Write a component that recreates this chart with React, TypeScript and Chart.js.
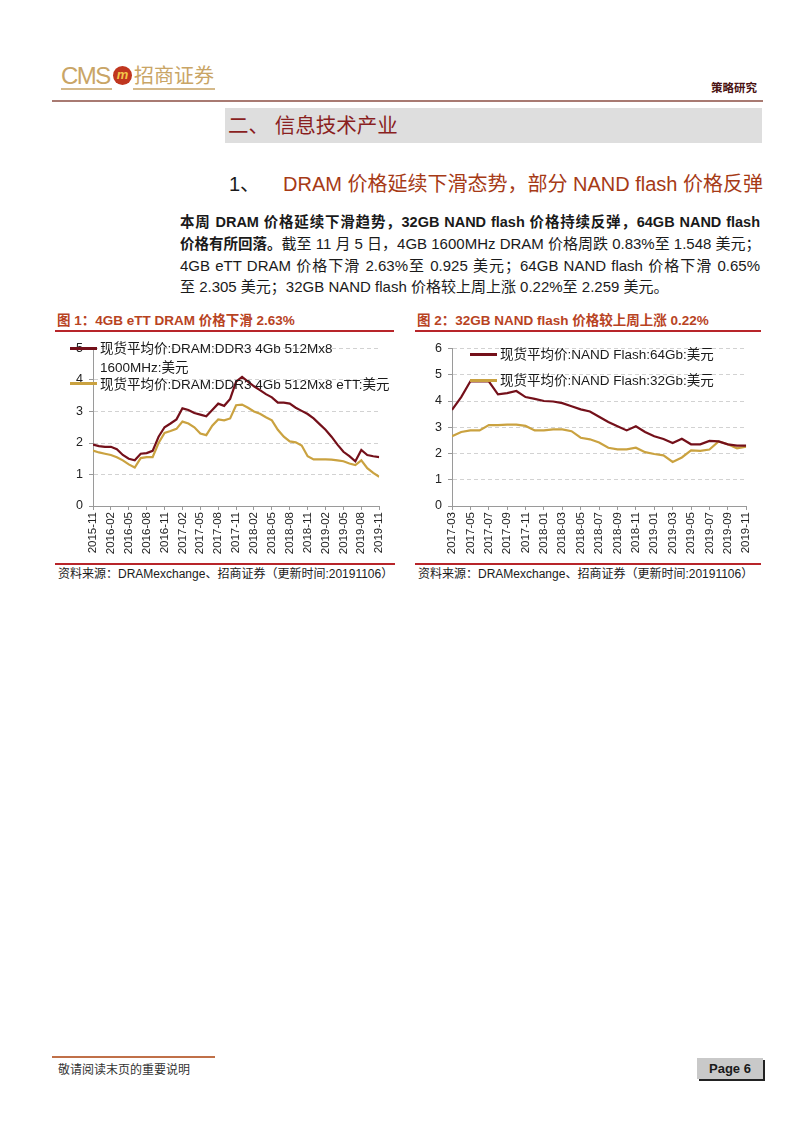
import React, { useEffect, useRef } from 'react';
import { Chart, registerables } from 'chart.js';
Chart.register(...registerables);

// ---------- Chart 1 data (monthly, 2015-11 .. 2019-11) ----------
const dramTickLabels = ['2015-11','2016-02','2016-05','2016-08','2016-11','2017-02','2017-05','2017-08','2017-11','2018-02','2018-05','2018-08','2018-11','2019-02','2019-05','2019-08','2019-11'];
const ddr3_1600 = [1.95,1.90,1.88,1.88,1.80,1.62,1.50,1.45,1.66,1.68,1.75,2.20,2.50,2.62,2.75,3.10,3.05,2.95,2.90,2.85,3.05,3.25,3.18,3.40,3.95,4.10,3.95,3.80,3.68,3.55,3.45,3.28,3.28,3.25,3.12,3.02,2.92,2.78,2.60,2.42,2.20,1.95,1.72,1.58,1.42,1.78,1.62,1.58,1.55];
const ddr3_ett = [1.76,1.70,1.66,1.62,1.55,1.45,1.32,1.22,1.52,1.55,1.55,2.00,2.32,2.38,2.45,2.68,2.62,2.50,2.30,2.25,2.55,2.75,2.72,2.78,3.20,3.22,3.12,3.00,2.93,2.82,2.72,2.42,2.20,2.05,2.02,1.92,1.58,1.48,1.48,1.48,1.47,1.45,1.42,1.35,1.30,1.45,1.20,1.05,0.93];
const dramSeriesNames = ['现货平均价:DRAM:DDR3 4Gb 512Mx8 1600MHz:美元', '现货平均价:DRAM:DDR3 4Gb 512Mx8 eTT:美元'];

// ---------- Chart 2 data (monthly, 2017-03 .. 2019-11) ----------
const nandTickLabels = ['2017-03','2017-05','2017-07','2017-09','2017-11','2018-01','2018-03','2018-05','2018-07','2018-09','2018-11','2019-01','2019-03','2019-05','2019-07','2019-09','2019-11'];
const nand64 = [3.66,4.15,4.75,4.75,4.75,4.25,4.30,4.38,4.15,4.08,4.00,3.98,3.92,3.80,3.68,3.60,3.40,3.20,3.04,2.88,3.04,2.82,2.66,2.55,2.40,2.56,2.35,2.35,2.48,2.46,2.35,2.30,2.30];
const nand32 = [2.66,2.82,2.88,2.88,3.08,3.08,3.10,3.10,3.05,2.88,2.88,2.92,2.92,2.85,2.60,2.54,2.42,2.22,2.16,2.16,2.22,2.05,1.98,1.93,1.68,1.85,2.12,2.10,2.15,2.46,2.35,2.20,2.26];
const nandSeriesNames = ['现货平均价:NAND Flash:64Gb:美元', '现货平均价:NAND Flash:32Gb:美元'];

const DARK = '#74101a';
const GOLD = '#caa240';
const FONT = '"Liberation Sans", Arial, "Noto Sans CJK SC", sans-serif';

type ChartProps = {
  left: number; top: number; width: number; height: number;
  a: number[]; b: number[]; tickLabels: string[]; step: number; yMax: number;
  yAxisWidth: number; xAxisHeight: number; padTop: number; padRight: number;
  names: string[];
};

function LineChart(p: ChartProps) {
  const ref = useRef<HTMLCanvasElement>(null);
  useEffect(() => {
    const toPts = (arr: number[]) => arr.map((v, i) => ({ x: i, y: v }));
    const chart = new Chart(ref.current as HTMLCanvasElement, {
      type: 'line',
      data: {
        datasets: [
          { label: p.names[0], data: toPts(p.a), borderColor: DARK, borderWidth: 2.2, pointRadius: 0, tension: 0 },
          { label: p.names[1], data: toPts(p.b), borderColor: GOLD, borderWidth: 2.2, pointRadius: 0, tension: 0 },
        ],
      },
      options: {
        animation: false,
        responsive: false,
        layout: { padding: { top: p.padTop, right: p.padRight, left: 0, bottom: 0 } },
        plugins: { legend: { display: false }, tooltip: { enabled: false } },
        scales: {
          x: {
            type: 'linear',
            min: 0,
            max: p.a.length - 1,
            afterFit: (s: any) => { s.height = p.xAxisHeight; },
            ticks: {
              stepSize: p.step,
              autoSkip: false,
              minRotation: 90,
              maxRotation: 90,
              padding: 2,
              color: '#222',
              font: { family: FONT, size: 11.5 },
              callback: (v: any) => {
                const n = Math.round(Number(v));
                return n % p.step === 0 ? p.tickLabels[n / p.step] : '';
              },
            },
            grid: { drawOnChartArea: false, drawTicks: true, tickLength: 4, color: '#9a9a9a' },
            border: { display: true, color: '#9a9a9a', width: 1 },
          },
          y: {
            min: 0,
            max: p.yMax,
            afterFit: (s: any) => { s.width = p.yAxisWidth; },
            ticks: { stepSize: 1, padding: 6, color: '#222', font: { family: FONT, size: 12.5 } },
            grid: { color: '#d2d2d2', tickLength: 4, tickColor: '#9a9a9a', tickBorderDash: [] as any },
            border: { display: true, color: '#9a9a9a', width: 1, dash: [4, 3] },
          },
        },
      } as any,
    });
    return () => chart.destroy();
  }, []);
  return (
    <canvas ref={ref} width={p.width} height={p.height}
      style={{ position: 'absolute', left: p.left, top: p.top, width: p.width, height: p.height }} />
  );
}

const T = (props: { x: number; y: number; size: number; lh?: number; style?: any; children: any }) => {
  const lh = props.lh ?? Math.round(props.size * 1.4);
  return (
    <div style={{ position: 'absolute', left: props.x, top: props.y - lh / 2, fontSize: props.size, lineHeight: lh + 'px', whiteSpace: 'nowrap', ...props.style }}>
      {props.children}
    </div>
  );
};

const Line = (props: { x: number; y: number; w: number; h: number; c: string; style?: any }) => (
  <div style={{ position: 'absolute', left: props.x, top: props.y, width: props.w, height: props.h, background: props.c, ...props.style }} />
);

export default function App() {
  const titleColor = '#b8431f';
  const redLine = '#b8252a';
  const legendText = { color: '#1a1a1a', fontSize: 13.5 };
  const justify = { width: 580, textAlign: 'justify' as const, textAlignLast: 'justify' as const };
  return (
    <div style={{ position: 'absolute', left: 0, top: 0, width: 802, height: 1133, background: '#fff', fontFamily: FONT, color: '#1a1a1a', overflow: 'hidden' }}>
      {/* Header */}
      <T x={61} y={76} size={24} style={{ color: '#c9a566', letterSpacing: -1.5 }}>CMS</T>
      <div style={{ position: 'absolute', left: 113, top: 66, width: 19, height: 19, borderRadius: '50%', background: '#c0361f', color: '#f3c64a', fontSize: 13, fontWeight: 'bold', lineHeight: '18px', textAlign: 'center', fontStyle: 'italic' }}>m</div>
      <T x={134} y={76} size={20} style={{ color: '#c9a566' }}>招商证券</T>
      <Line x={61} y={88} w={51} h={1.5} c="#d4b98a" />
      <Line x={133} y={88} w={82} h={1.5} c="#d4b98a" />
      <T x={711} y={88} size={11.5} style={{ color: '#4a1212', fontWeight: 'bold' }}>策略研究</T>
      <Line x={52} y={100} w={711} h={1.5} c="#a87a72" />

      {/* Section title bar */}
      <div style={{ position: 'absolute', left: 225, top: 108, width: 537, height: 35, background: '#dedede' }} />
      <T x={228} y={125} size={20.5} style={{ color: '#8a1f1f' }}>二、 信息技术产业</T>

      {/* Sub heading */}
      <T x={229} y={184} size={20} style={{ color: '#1a1a1a' }}>1、</T>
      <T x={283} y={184} size={20} style={{ color: '#a63a16' }}>DRAM 价格延续下滑态势，部分 NAND flash 价格反弹</T>

      {/* Paragraph */}
      <T x={180} y={222} size={14.5} lh={22} style={{ ...justify, fontWeight: 'bold' }}>本周 DRAM 价格延续下滑趋势，32GB NAND flash 价格持续反弹，64GB NAND flash</T>
      <T x={180} y={244} size={15} lh={22} style={justify}><b style={{ fontSize: 14.5 }}>价格有所回落。</b>截至 11 月 5 日，4GB 1600MHz DRAM 价格周跌 0.83%至 1.548 美元；</T>
      <T x={180} y={266} size={15} lh={22} style={justify}>4GB eTT DRAM 价格下滑 2.63%至 0.925 美元；64GB NAND flash 价格下滑 0.65%</T>
      <T x={180} y={287} size={15} lh={22}>至 2.305 美元；32GB NAND flash 价格较上周上涨 0.22%至 2.259 美元。</T>

      {/* Chart 1 */}
      <T x={57} y={320} size={13.5} style={{ color: titleColor, fontWeight: 'bold' }}>图 1：4GB eTT DRAM 价格下滑 2.63%</T>
      <Line x={55} y={330} w={339} h={1.5} c={redLine} />
      <LineChart left={55} top={335} width={340} height={225} a={ddr3_1600} b={ddr3_ett} tickLabels={dramTickLabels} step={3} yMax={5}
        yAxisWidth={38} xAxisHeight={54} padTop={12} padRight={14} names={dramSeriesNames} />
      <Line x={70} y={347} w={27} h={2.5} c={DARK} />
      <T x={100} y={348} size={13.5} lh={19} style={legendText}>现货平均价:DRAM:DDR3 4Gb 512Mx8</T>
      <T x={100} y={367} size={13.5} lh={19} style={legendText}>1600MHz:美元</T>
      <Line x={70} y={382} w={27} h={2.5} c={GOLD} />
      <T x={100} y={384} size={13.5} lh={19} style={legendText}>现货平均价:DRAM:DDR3 4Gb 512Mx8 eTT:美元</T>
      <Line x={55} y={563} w={340} h={1.5} c={redLine} />
      <T x={58} y={574} size={12} style={{ color: '#1a1a1a' }}>资料来源：DRAMexchange、招商证券（更新时间:20191106）</T>

      {/* Chart 2 */}
      <T x={417} y={320} size={13.5} style={{ color: titleColor, fontWeight: 'bold' }}>图 2：32GB NAND flash 价格较上周上涨 0.22%</T>
      <Line x={415} y={330} w={346} h={1.5} c={redLine} />
      <LineChart left={412} top={335} width={350} height={225} a={nand64} b={nand32} tickLabels={nandTickLabels} step={2} yMax={6}
        yAxisWidth={40} xAxisHeight={54} padTop={11} padRight={15} names={nandSeriesNames} />
      <Line x={470} y={353} w={27} h={2.5} c={DARK} />
      <T x={500} y={354} size={13.5} lh={19} style={legendText}>现货平均价:NAND Flash:64Gb:美元</T>
      <Line x={470} y={379} w={27} h={2.5} c={GOLD} />
      <T x={500} y={380} size={13.5} lh={19} style={legendText}>现货平均价:NAND Flash:32Gb:美元</T>
      <Line x={415} y={563} w={346} h={1.5} c={redLine} />
      <T x={418} y={574} size={12} style={{ color: '#1a1a1a' }}>资料来源：DRAMexchange、招商证券（更新时间:20191106）</T>

      {/* Footer */}
      <Line x={52} y={1056} w={163} h={1.5} c="#c07048" />
      <T x={58} y={1070} size={12} style={{ color: '#333' }}>敬请阅读末页的重要说明</T>
      <div style={{ position: 'absolute', left: 697, top: 1058, width: 66, height: 21, background: '#c9c9c9', boxShadow: '2px 2px 0 #222', fontWeight: 'bold', fontSize: 13, lineHeight: '21px', textAlign: 'center', fontFamily: '"Liberation Sans Narrow", "Liberation Sans", Arial' }}>Page 6</div>
    </div>
  );
}
